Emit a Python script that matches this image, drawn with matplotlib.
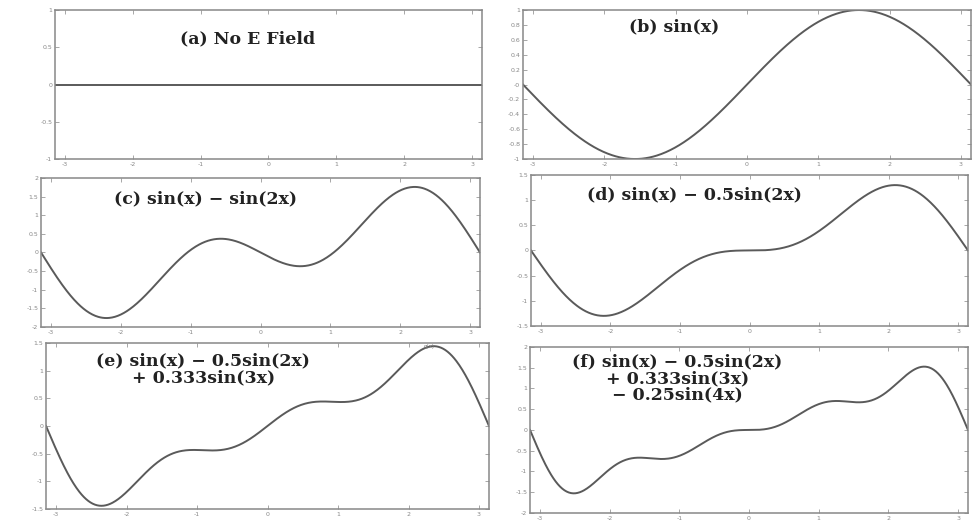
import numpy as np
import matplotlib
matplotlib.use("Agg")
import matplotlib.pyplot as plt

# Fourier sine coefficients (b1, b2, b3, b4)
coef_a = [0.0]
coef_b = [1.0]
coef_c = [1.0, -1.0]
coef_d = [1.0, -0.5]
coef_e = [1.0, -0.5, 0.333]
coef_f = [1.0, -0.5, 0.333, -0.25]

titles = [
    "(a) No E Field",
    "(b) sin(x)",
    "(c) sin(x) \u2212 sin(2x)",
    "(d) sin(x) \u2212 0.5sin(2x)",
    "(e) sin(x) \u2212 0.5sin(2x)\n+ 0.333sin(3x)",
    "(f) sin(x) \u2212 0.5sin(2x)\n+ 0.333sin(3x)\n\u2212 0.25sin(4x)",
]
coefs = [coef_a, coef_b, coef_c, coef_d, coef_e, coef_f]
ylims = [(-1, 1), (-1, 1), (-2, 2), (-1.5, 1.5), (-1.5, 1.5), (-2, 2)]
ysteps = [0.5, 0.2, 0.5, 0.5, 0.5, 0.5]
xticks = [-3, -2, -1, 0, 1, 2, 3]

boxes = [
    [0.0563, 0.6942, 0.4370, 0.2865],
    [0.5353, 0.6942, 0.4586, 0.2865],
    [0.0420, 0.3712, 0.4493, 0.2865],
    [0.5435, 0.3731, 0.4473, 0.2904],
    [0.0471, 0.0212, 0.4534, 0.3192],
    [0.5425, 0.0135, 0.4483, 0.3192],
]
text_pos = [(0.45, 0.805), (0.337, 0.886), (0.375, 0.86),
            (0.375, 0.868), (0.355, 0.84), (0.336, 0.81)]

x = np.linspace(-np.pi, np.pi, 600)

fig = plt.figure(figsize=(9.77, 5.2), dpi=100)

for i in range(6):
    ax = fig.add_axes(boxes[i])
    y = np.zeros_like(x)
    for k, b in enumerate(coefs[i]):
        y += b * np.sin((k + 1) * x)
    ax.plot(x, y, color="#5a5a5a", lw=1.4)

    ax.set_xlim(-np.pi, np.pi)
    ax.set_ylim(*ylims[i])
    lo, hi = ylims[i]
    yt = np.round(np.arange(lo, hi + 1e-9, ysteps[i]), 2)
    ax.set_yticks(yt)
    ax.set_yticklabels(["%g" % v for v in yt])
    ax.set_xticks(xticks)
    ax.set_xticklabels([str(v) for v in xticks])
    ax.tick_params(direction="in", length=3, width=0.6, colors="#999999",
                   labelsize=4.5, labelcolor="#888888", pad=2,
                   top=True, right=True)
    for s in ax.spines.values():
        s.set_color("#888888")
        s.set_linewidth(1.1)

    tx, ty = text_pos[i]
    ax.text(tx, ty, titles[i], transform=ax.transAxes, ha="center",
            va="center", family="DejaVu Serif", fontsize=12.5,
            fontweight="bold", color="#222222", linespacing=0.95)

# small leftover label near the peak in panel (e)
fig.axes[4].text(2.3, 1.43, "g(x)", fontsize=4, color="#777777",
                 ha="center", va="center")

fig.savefig("out.png", dpi=100)
